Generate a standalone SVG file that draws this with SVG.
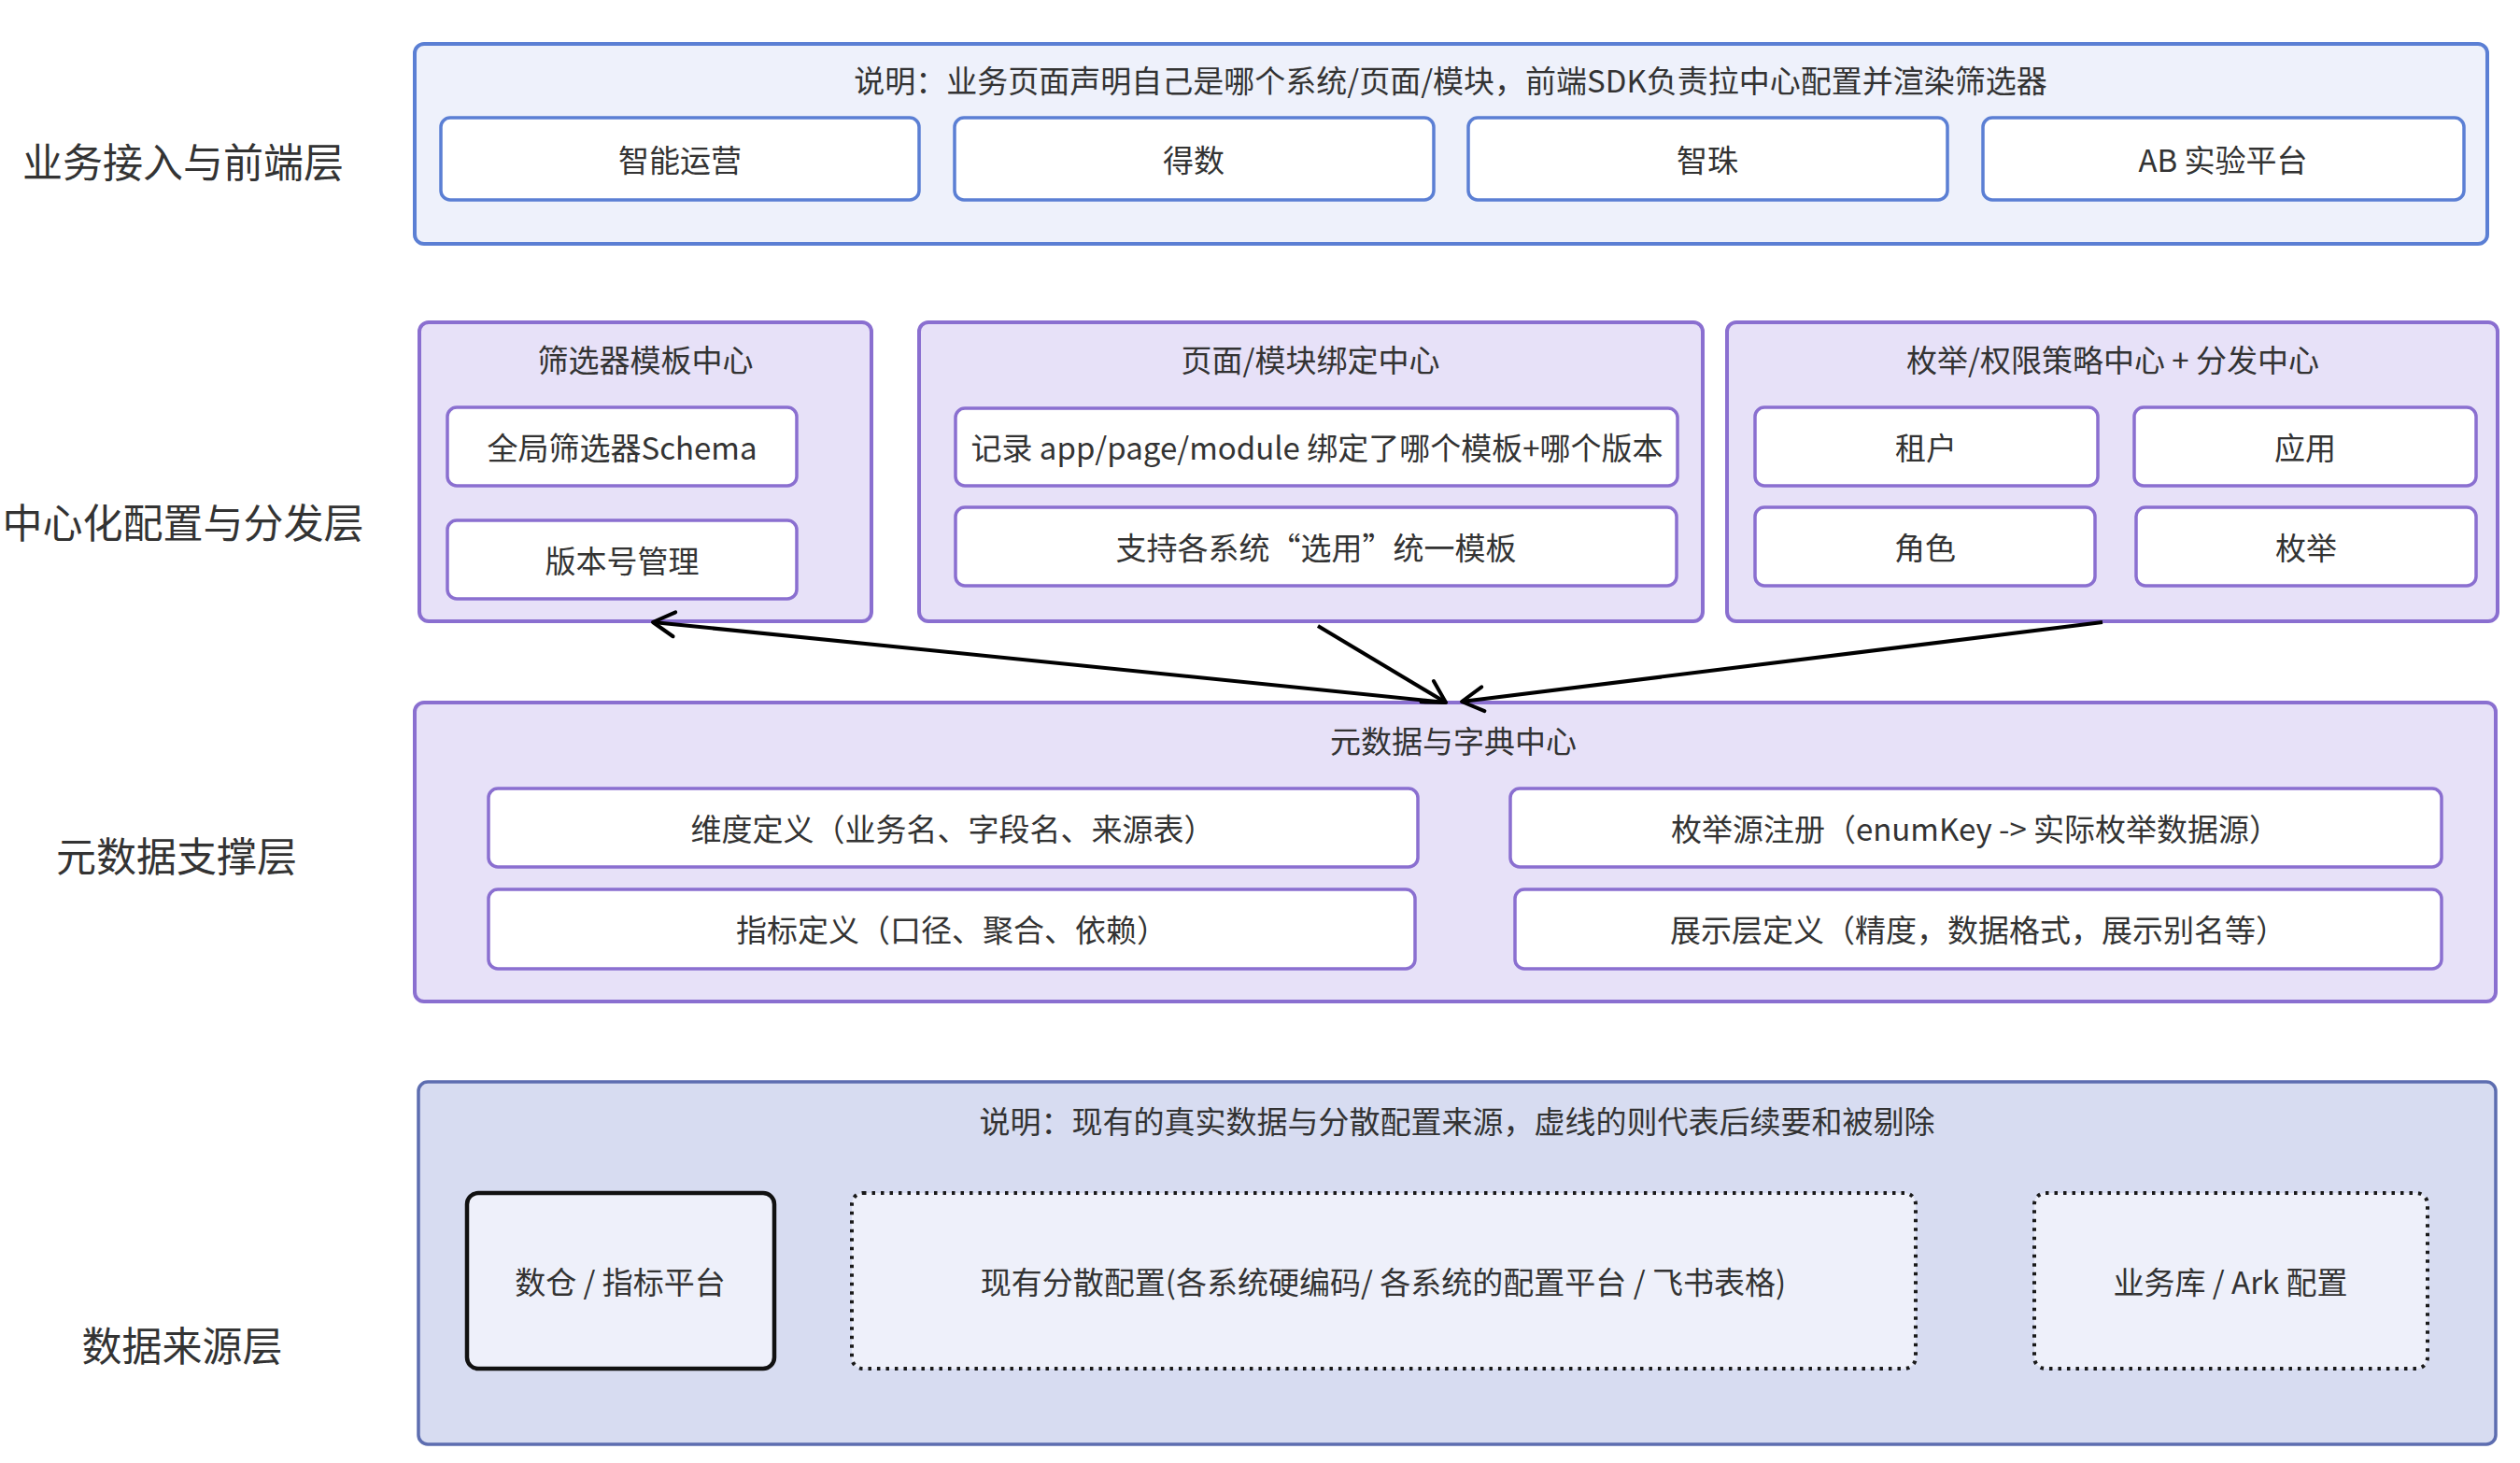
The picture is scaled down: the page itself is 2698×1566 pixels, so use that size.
<svg xmlns="http://www.w3.org/2000/svg" width="2698" height="1566" viewBox="0 0 2698 1566">
<defs>
<style>
text{font-family:"Noto Sans CJK SC","Noto Sans",sans-serif;fill:#333;text-anchor:middle;dominant-baseline:central}
.lbl{font-size:43px}
.t{font-size:33px}
.topc{fill:#eef1fb;stroke:#5b7fd4;stroke-width:4}
.topn{fill:#ffffff;stroke:#5b7fd4;stroke-width:3.5}
.midc{fill:#e7e1f8;stroke:#8a6fd0;stroke-width:4}
.midn{fill:#ffffff;stroke:#8a6fd0;stroke-width:3.5}
.botc{fill:#d7dcf1;stroke:#5d6db0;stroke-width:3.5}
.solid{fill:#eef0fa;stroke:#111;stroke-width:4.5}
.dot{fill:#eef0fa;stroke:#1a1a1a;stroke-width:4;stroke-dasharray:3.5 6}
.arr{fill:none;stroke:#000;stroke-width:4;marker-end:url(#ah)}
</style>
<marker id="ah" markerUnits="userSpaceOnUse" markerWidth="34" markerHeight="34" viewBox="0 0 34 34" refX="29" refY="17" orient="auto">
<path d="M6,4 L29,17 L6,30" fill="none" stroke="#000" stroke-width="4" stroke-linecap="round" stroke-linejoin="round"/>
</marker>
</defs>
<rect width="2698" height="1566" fill="#ffffff"/>

<g id="layer-labels">
<text class="lbl" x="196" y="171">业务接入与前端层</text>
<text class="lbl" x="196" y="557">中心化配置与分发层</text>
<text class="lbl" x="189" y="914">元数据支撑层</text>
<text class="lbl" x="195" y="1438">数据来源层</text>
</g>

<g id="frontend-layer">
<rect class="topc" x="444" y="47" width="2219" height="214" rx="10"/>
<text class="t" x="1553" y="85">说明：业务页面声明自己是哪个系统/页面/模块，前端SDK负责拉中心配置并渲染筛选器</text>
<g id="n-zhineng"><rect class="topn" x="472" y="126" width="512" height="88" rx="10"/><text class="t" x="728" y="170">智能运营</text></g>
<g id="n-deshu"><rect class="topn" x="1022" y="126" width="513" height="88" rx="10"/><text class="t" x="1278" y="170">得数</text></g>
<g id="n-zhizhu"><rect class="topn" x="1572" y="126" width="513" height="88" rx="10"/><text class="t" x="1828" y="170">智珠</text></g>
<g id="n-ab"><rect class="topn" x="2123" y="126" width="515" height="88" rx="10"/><text class="t" x="2380" y="170">AB 实验平台</text></g>
</g>

<g id="template-center">
<rect class="midc" x="449" y="345" width="484" height="320" rx="10"/>
<text class="t" x="691" y="384">筛选器模板中心</text>
<g id="n-schema"><rect class="midn" x="479" y="436" width="374" height="84" rx="10"/><text class="t" x="666" y="478">全局筛选器Schema</text></g>
<g id="n-version"><rect class="midn" x="479" y="557" width="374" height="84" rx="10"/><text class="t" x="666" y="599">版本号管理</text></g>
</g>

<g id="binding-center">
<rect class="midc" x="984" y="345" width="839" height="320" rx="10"/>
<text class="t" x="1403" y="384">页面/模块绑定中心</text>
<g id="n-record"><rect class="midn" x="1023" y="437" width="773" height="83" rx="10"/><text class="t" x="1410" y="478">记录 app/page/module 绑定了哪个模板+哪个版本</text></g>
<g id="n-select"><rect class="midn" x="1023" y="543" width="772" height="84" rx="10"/><text class="t" x="1409" y="585">支持各系统“选用”统一模板</text></g>
</g>

<g id="policy-center">
<rect class="midc" x="1849" y="345" width="825" height="320" rx="10"/>
<text class="t" x="2262" y="384">枚举/权限策略中心 + 分发中心</text>
<g id="n-tenant"><rect class="midn" x="1879" y="436" width="367" height="84" rx="10"/><text class="t" x="2062" y="478">租户</text></g>
<g id="n-app"><rect class="midn" x="2285" y="436" width="366" height="84" rx="10"/><text class="t" x="2468" y="478">应用</text></g>
<g id="n-role"><rect class="midn" x="1879" y="543" width="364" height="84" rx="10"/><text class="t" x="2061" y="585">角色</text></g>
<g id="n-enum"><rect class="midn" x="2287" y="543" width="364" height="84" rx="10"/><text class="t" x="2469" y="585">枚举</text></g>
</g>

<g id="metadata-center">
<rect class="midc" x="444" y="752" width="2228" height="320" rx="10"/>
<text class="t" x="1556" y="792">元数据与字典中心</text>
<g id="n-dim"><rect class="midn" x="523" y="844" width="995" height="84" rx="10"/><text class="t" x="1020" y="886">维度定义（业务名、字段名、来源表）</text></g>
<g id="n-metric"><rect class="midn" x="523" y="952" width="992" height="85" rx="10"/><text class="t" x="1019" y="994">指标定义（口径、聚合、依赖）</text></g>
<g id="n-enumsrc"><rect class="midn" x="1617" y="844" width="997" height="84" rx="10"/><text class="t" x="2115" y="886">枚举源注册（enumKey -&gt; 实际枚举数据源）</text></g>
<g id="n-display"><rect class="midn" x="1622" y="952" width="992" height="85" rx="10"/><text class="t" x="2118" y="994">展示层定义（精度，数据格式，展示别名等）</text></g>
</g>

<g id="source-layer">
<rect class="botc" x="448" y="1158" width="2224" height="388" rx="10"/>
<text class="t" x="1560" y="1199">说明：现有的真实数据与分散配置来源，虚线的则代表后续要和被剔除</text>
<g id="n-dw"><rect class="solid" x="500" y="1277" width="329" height="188" rx="12"/><text class="t" x="664" y="1371">数仓 / 指标平台</text></g>
<g id="n-scattered"><rect class="dot" x="912" y="1277" width="1139" height="188" rx="12"/><text class="t" x="1481" y="1371">现有分散配置(各系统硬编码/ 各系统的配置平台 / 飞书表格)</text></g>
<g id="n-bizdb"><rect class="dot" x="2178" y="1277" width="421" height="188" rx="12"/><text class="t" x="2388" y="1371">业务库 / Ark 配置</text></g>
</g>

<g id="connectors">
<path class="arr" d="M1548,752 L699,666"/>
<path class="arr" d="M1411,670 L1548,752"/>
<path class="arr" d="M2251,666 L1565,751"/>
</g>
</svg>
